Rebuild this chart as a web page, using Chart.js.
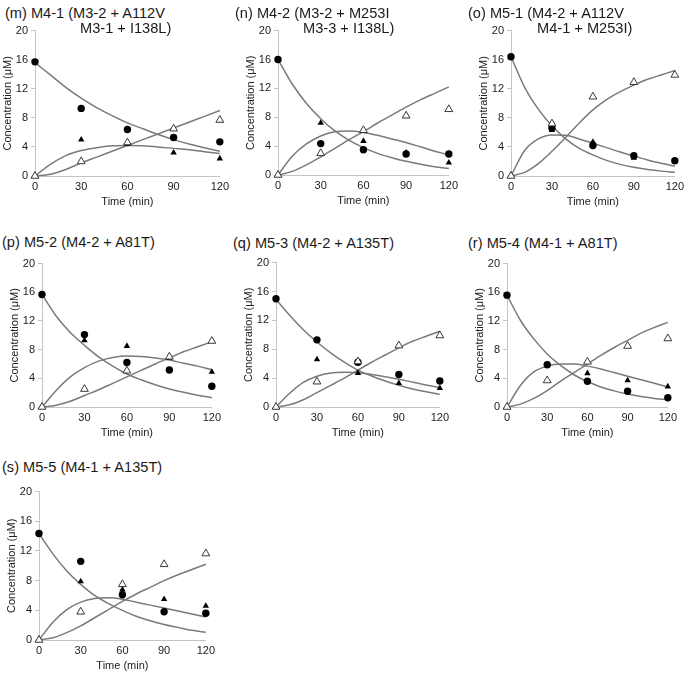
<!DOCTYPE html>
<html>
<head>
<meta charset="utf-8">
<script src="https://cdn.jsdelivr.net/npm/chart.js@4/dist/chart.umd.min.js"></script>
<style>
  html,body{margin:0;padding:0;background:#fff;}
  body{width:685px;height:673px;position:relative;overflow:hidden;font-family:"Liberation Sans",Arial,sans-serif;}
  .ttl{position:absolute;font-size:14.6px;line-height:16px;color:#1a1a1a;white-space:nowrap;}
  canvas{position:absolute;}
</style>
</head>
<body>
<script>
// ---------- shared axes ----------
const sampleTimes = [0, 30, 60, 90, 120];
const curveTimes  = [0, 10, 20, 30, 40, 50, 60, 70, 80, 90, 100, 110, 120];
const xTicks = [0, 30, 60, 90, 120];
const yTicks = [0, 4, 8, 12, 16, 20];
const xTitle = 'Time (min)';
const yTitle = 'Concentration (\u03BCM)';

// ---------- panel titles ----------
const titles = {
  m: ['(m) M4-1 (M3-2 + A112V', 'M3-1 + I138L)'],
  n: ['(n) M4-2 (M3-2 + M253I', 'M3-3 + I138L)'],
  o: ['(o) M5-1 (M4-2 + A112V', 'M4-1 + M253I)'],
  p: ['(p) M5-2 (M4-2 + A81T)'],
  q: ['(q) M5-3 (M4-2 + A135T)'],
  r: ['(r) M5-4 (M4-1 + A81T)'],
  s: ['(s) M5-5 (M4-1 + A135T)']
};

// ---------- data: measured (circle, filled triangle, open triangle) ----------
const m_circle   = [15.7, 9.3, 6.4, 5.3, 4.7];
const m_triangle = [0, 5.0, 4.4, 3.2, 2.4];
const m_open     = [0, 2.0, 4.6, 6.5, 7.7];
const n_circle   = [16.0, 4.35, 3.5, 2.9, 2.9];
const n_triangle = [0, 7.2, 4.7, 3.1, 1.7];
const n_open     = [0, 3.0, 6.2, 8.2, 9.1];
const o_circle   = [16.4, 6.6, 4.2, 2.8, 2.1];
const o_triangle = [0, 6.3, 4.7, 2.5, 2.0];
const o_open     = [0, 7.2, 10.9, 12.9, 13.9];
const p_circle   = [15.7, 10.1, 6.2, 5.15, 2.9];
const p_triangle = [0, 9.3, 8.5, 6.9, 4.9];
const p_open     = [0, 2.5, 5.05, 7.0, 9.2];
const q_circle   = [15.0, 9.3, 6.2, 4.5, 3.6];
const q_triangle = [0, 6.6, 4.7, 3.3, 2.6];
const q_open     = [0, 3.5, 6.3, 8.5, 9.9];
const r_circle   = [15.6, 5.9, 3.6, 2.2, 1.3];
const r_triangle = [0, 5.8, 4.7, 3.7, 2.85];
const r_open     = [0, 3.7, 6.3, 8.5, 9.55];
const s_circle   = [14.35, 10.6, 6.1, 3.8, 3.6];
const s_triangle = [0, 7.9, 6.8, 5.5, 4.6];
const s_open     = [0, 3.8, 7.5, 10.2, 11.65];

// ---------- data: fitted curves (read every 10 min) ----------
const m_fitA = [15.6, 13.9, 12.2, 10.7, 9.4, 8.3, 7.3, 6.5, 5.7, 5.0, 4.4, 3.9, 3.4];
const m_fitB = [0, 1.6, 2.8, 3.5, 3.9, 4.15, 4.2, 4.15, 4.0, 3.8, 3.6, 3.35, 3.1];
const m_fitC = [0, 0.25, 0.9, 1.8, 2.6, 3.4, 4.2, 5.0, 5.8, 6.6, 7.4, 8.2, 9.0];
const n_fitA = [16.0, 12.6, 9.9, 7.8, 6.1, 4.8, 3.8, 3.0, 2.4, 1.9, 1.5, 1.15, 0.9];
const n_fitB = [0, 2.6, 4.3, 5.4, 6.0, 6.1, 5.9, 5.5, 5.0, 4.5, 3.9, 3.3, 2.8];
const n_fitC = [0, 0.5, 1.4, 2.5, 3.7, 4.9, 6.0, 7.2, 8.3, 9.4, 10.4, 11.3, 12.2];
const o_fitA = [16.4, 12.2, 9.2, 6.9, 5.1, 3.8, 2.9, 2.15, 1.6, 1.2, 0.9, 0.67, 0.5];
const o_fitB = [0, 3.5, 5.1, 5.65, 5.6, 5.1, 4.5, 3.9, 3.3, 2.75, 2.2, 1.75, 1.35];
const o_fitC = [0, 0.5, 1.7, 3.4, 5.3, 7.3, 9.1, 10.5, 11.6, 12.5, 13.3, 13.9, 14.5];
const p_fitA = [15.7, 12.7, 10.4, 8.6, 7.0, 5.7, 4.6, 3.8, 3.1, 2.5, 2.05, 1.65, 1.3];
const p_fitB = [0, 2.3, 4.2, 5.5, 6.4, 6.9, 7.1, 7.05, 6.85, 6.55, 6.1, 5.7, 5.2];
const p_fitC = [0, 0.25, 0.8, 1.6, 2.4, 3.3, 4.2, 5.1, 6.0, 6.85, 7.7, 8.4, 9.1];
const q_fitA = [14.9, 12.7, 10.7, 9.0, 7.5, 6.2, 5.1, 4.3, 3.6, 3.0, 2.5, 2.1, 1.75];
const q_fitB = [0, 1.9, 3.4, 4.25, 4.7, 4.8, 4.75, 4.5, 4.2, 3.85, 3.45, 3.05, 2.7];
const q_fitC = [0, 0.3, 1.0, 2.0, 3.0, 4.0, 5.1, 6.2, 7.2, 8.2, 9.1, 9.8, 10.5];
const r_fitA = [15.6, 12.1, 9.5, 7.4, 5.8, 4.5, 3.55, 2.8, 2.25, 1.8, 1.45, 1.2, 1.0];
const r_fitB = [0, 3.0, 4.9, 5.7, 6.0, 6.0, 5.7, 5.3, 4.8, 4.3, 3.8, 3.3, 2.8];
const r_fitC = [0, 0.4, 1.2, 2.3, 3.6, 4.8, 6.0, 7.2, 8.3, 9.3, 10.3, 11.1, 11.8];
const s_fitA = [14.35, 11.6, 9.3, 7.5, 6.0, 4.9, 4.0, 3.2, 2.6, 2.1, 1.7, 1.3, 1.05];
const s_fitB = [0, 2.4, 4.1, 5.1, 5.6, 5.7, 5.5, 5.1, 4.7, 4.3, 3.9, 3.5, 3.1];
const s_fitC = [0, 0.3, 1.0, 1.9, 3.0, 4.1, 5.2, 6.2, 7.1, 8.0, 8.8, 9.5, 10.2];

const panelData = {
  m: [m_circle, m_triangle, m_open, m_fitA, m_fitB, m_fitC],
  n: [n_circle, n_triangle, n_open, n_fitA, n_fitB, n_fitC],
  o: [o_circle, o_triangle, o_open, o_fitA, o_fitB, o_fitC],
  p: [p_circle, p_triangle, p_open, p_fitA, p_fitB, p_fitC],
  q: [q_circle, q_triangle, q_open, q_fitA, q_fitB, q_fitC],
  r: [r_circle, r_triangle, r_open, r_fitA, r_fitB, r_fitC],
  s: [s_circle, s_triangle, s_open, s_fitA, s_fitB, s_fitC]
};

// ---------- layout (pixel positions of each plot area and title) ----------
const layout = {
  m: {x0: 35,  x1: 223, yt: 29,  yb: 176, tx: 5,   t2x: 80,  ty: 5},
  n: {x0: 278, x1: 452, yt: 29,  yb: 175, tx: 235, t2x: 303, ty: 5},
  o: {x0: 511, x1: 678, yt: 29,  yb: 176, tx: 468, t2x: 537, ty: 5},
  p: {x0: 42,  x1: 215, yt: 262, yb: 407, tx: 2,   ty: 234},
  q: {x0: 276, x1: 443, yt: 261, yb: 407, tx: 233, ty: 235},
  r: {x0: 507, x1: 671, yt: 262, yb: 407, tx: 468, ty: 235},
  s: {x0: 39,  x1: 209, yt: 490, yb: 640, tx: 2,   ty: 459}
};

const L = 34, T = 8, R = 10, B = 34;
const FONT = '"Liberation Sans", Arial, sans-serif';
const AXIS = '#c4c4c4';
const CURVE = '#7a7a7a';

function pts(xs, ys) { return xs.map((x, i) => ({x: x, y: ys[i]})); }

Object.keys(layout).forEach(key => {
  const lo = layout[key];
  const d = panelData[key];
  const w = (lo.x1 - lo.x0) + L + R;
  const h = (lo.yb - lo.yt) + T + B;
  const cv = document.createElement('canvas');
  cv.width = w; cv.height = h;
  cv.style.left = (lo.x0 - L) + 'px';
  cv.style.top = (lo.yt - T) + 'px';
  cv.style.width = w + 'px'; cv.style.height = h + 'px';
  document.body.appendChild(cv);

  const tt = titles[key];
  const t1 = document.createElement('div');
  t1.className = 'ttl'; t1.textContent = tt[0];
  t1.style.left = lo.tx + 'px'; t1.style.top = lo.ty + 'px';
  document.body.appendChild(t1);
  if (tt[1]) {
    const t2 = document.createElement('div');
    t2.className = 'ttl'; t2.textContent = tt[1];
    t2.style.left = lo.t2x + 'px'; t2.style.top = (lo.ty + 15) + 'px';
    document.body.appendChild(t2);
  }

  const curve = (ys) => ({
    data: pts(curveTimes, ys), showLine: true, pointRadius: 0, borderColor: CURVE,
    borderWidth: 1.5, cubicInterpolationMode: 'monotone', clip: false, order: 5
  });
  new Chart(cv, {
    type: 'scatter',
    data: {
      datasets: [
        {data: pts(sampleTimes, d[0]), pointStyle: 'circle', pointRadius: 3.7, backgroundColor: '#000', borderColor: '#000', borderWidth: 0, clip: false, order: 1},
        {data: pts(sampleTimes, d[1]), pointStyle: 'triangle', pointRadius: 3.7, backgroundColor: '#000', borderColor: '#000', borderWidth: 0, clip: false, order: 2},
        {data: pts(sampleTimes, d[2]), pointStyle: 'triangle', pointRadius: 4.5, backgroundColor: '#fff', borderColor: '#222', borderWidth: 0.9, clip: false, order: 0},
        curve(d[3]), curve(d[4]), curve(d[5])
      ]
    },
    options: {
      responsive: false, animation: false, devicePixelRatio: 1,
      layout: {padding: {top: T, right: R, left: 0, bottom: 0}},
      plugins: {legend: {display: false}, tooltip: {enabled: false}, title: {display: false}},
      scales: {
        x: {
          type: 'linear', min: 0, max: 120,
          afterBuildTicks: s => { s.ticks = xTicks.map(v => ({value: v})); },
          afterFit: s => { s.height = B; },
          grid: {display: false, drawTicks: false},
          border: {display: true, color: AXIS, width: 1},
          ticks: {font: {family: FONT, size: 11}, color: '#222', padding: 4, maxRotation: 0},
          title: {display: true, text: xTitle, font: {family: FONT, size: 11}, color: '#222', padding: {top: 0, bottom: 1}}
        },
        y: {
          type: 'linear', min: 0, max: 20,
          afterBuildTicks: s => { s.ticks = yTicks.map(v => ({value: v})); },
          afterFit: s => { s.width = L; },
          grid: {drawOnChartArea: false, drawTicks: true, tickLength: 4, color: AXIS},
          border: {display: true, color: AXIS, width: 1},
          ticks: {font: {family: FONT, size: 11}, color: '#222', padding: 3},
          title: {display: true, text: yTitle, font: {family: FONT, size: 11}, color: '#222', padding: 0}
        }
      }
    }
  });
});
</script>
</body>
</html>
